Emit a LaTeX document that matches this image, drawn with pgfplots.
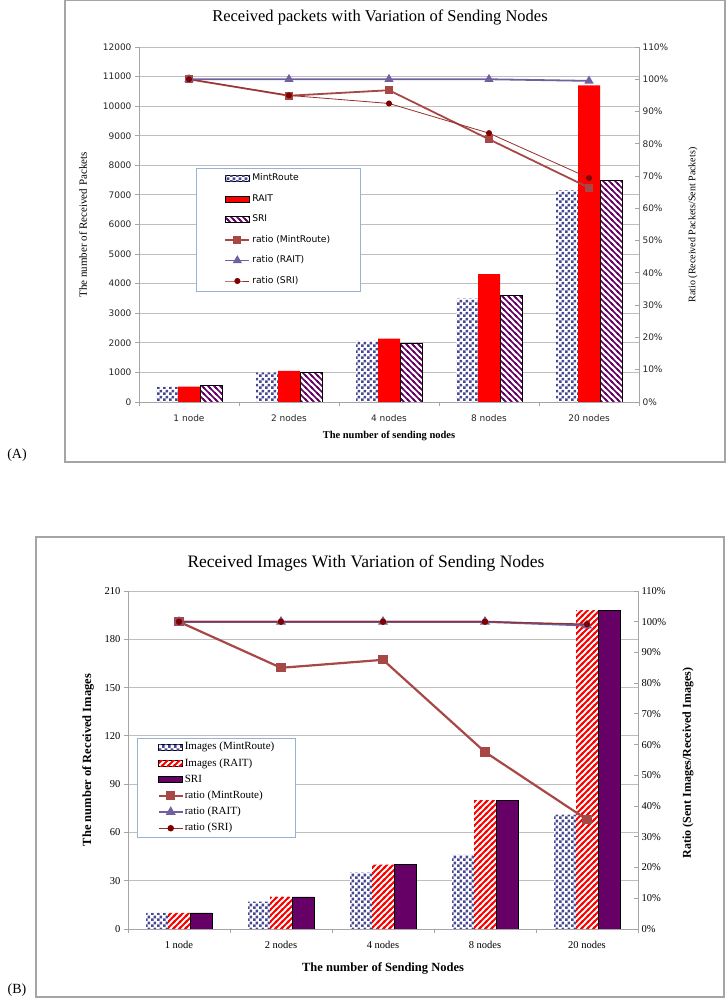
\documentclass[border=0pt]{standalone}
\usepackage{pgfplots}
\pgfplotsset{compat=1.18}
\usepackage{fontspec}
\setmainfont{Liberation Serif}
\newfontfamily\dejavu{DejaVu Sans}
\usetikzlibrary{patterns.meta}

\definecolor{mintc}{RGB}{70,70,145}
\definecolor{raitred}{RGB}{255,0,0}
\definecolor{sripurple}{RGB}{102,0,102}
\definecolor{ratM}{RGB}{168,72,70}
\definecolor{ratR}{RGB}{112,96,160}
\definecolor{ratS}{RGB}{150,45,45}
\definecolor{ratSm}{RGB}{128,0,0}
\definecolor{legblue}{RGB}{149,179,215}
\definecolor{framegray}{RGB}{165,165,165}
\definecolor{gridgray}{RGB}{190,190,190}

\tikzdeclarepattern{
  name=mycheck, type=uncolored,
  bottom left={(0pt,0pt)}, top right={(5.6pt,5.6pt)}, tile size={(5.6pt,5.6pt)},
  code={
    \fill (0pt,0pt) rectangle (2.8pt,2.8pt);
    \fill (2.8pt,2.8pt) rectangle (5.6pt,5.6pt);
  }
}
\tikzdeclarepattern{
  name=hatchnw, type=uncolored,
  bottom left={(-1pt,-1pt)}, top right={(7pt,7pt)}, tile size={(6pt,6pt)},
  code={
    \draw[line width=1.7pt] (-1pt,7pt) -- (7pt,-1pt);
    \draw[line width=1.7pt] (-1pt,1pt) -- (1pt,-1pt);
    \draw[line width=1.7pt] (5pt,7pt) -- (7pt,5pt);
  }
}
\tikzdeclarepattern{
  name=hatchne, type=uncolored,
  bottom left={(-1pt,-1pt)}, top right={(7pt,7pt)}, tile size={(6pt,6pt)},
  code={
    \draw[line width=2pt] (-1pt,-1pt) -- (7pt,7pt);
    \draw[line width=2pt] (-1pt,5pt) -- (1pt,7pt);
    \draw[line width=2pt] (5pt,-1pt) -- (7pt,1pt);
  }
}

\pgfplotsset{
  barleg/.style={legend image code/.code={\draw[##1] (0pt,-3pt) rectangle (24pt,3pt);}},
  lineleg/.style={legend image code/.code={\draw[mark repeat=2,mark phase=2,##1] plot coordinates {(0pt,0pt) (12pt,0pt) (24pt,0pt)};}},
  mintbar/.style={draw=none, fill=white, postaction={pattern=mycheck, pattern color=mintc}},
  raitbarA/.style={draw=none, fill=raitred},
  sribarA/.style={draw=black, line width=0.6pt, fill=white, postaction={pattern=hatchnw, pattern color=sripurple}},
  raitbarB/.style={draw=none, fill=white, postaction={pattern=hatchne, pattern color=raitred}},
  sribarB/.style={draw=black, line width=0.6pt, fill=sripurple},
  ratMs/.style={color=ratM, line width=1.8pt, mark=square*, mark size=3pt, mark options={solid, fill=ratM}},
  ratRs/.style={color=ratR, line width=1.8pt, mark=triangle*, mark size=3.6pt, mark options={solid, fill=ratR}},
  ratSs/.style={color=ratS, line width=0.8pt, mark=*, mark size=2.6pt, mark options={solid, fill=ratSm, draw=ratSm}},
  cats/.style={
    xmin=-0.5, xmax=4.5,
    xtick={-0.5,0.5,1.5,2.5,3.5,4.5}, xticklabels={},
    extra x ticks={0,1,2,3,4},
    extra x tick labels={1 node,2 nodes,4 nodes,8 nodes,20 nodes},
    extra x tick style={major tick length=0pt, tick style={draw=none}, grid=none},
  },
}

\begin{document}
\begin{tikzpicture}
\path[use as bounding box] (0pt,0pt) rectangle (726pt,1000pt);

% frames and outer texts
\draw[framegray, line width=1.2pt] (65pt,538pt) rectangle (725pt,999.4pt);
\draw[framegray, line width=1.2pt] (36pt,3pt) rectangle (724pt,463pt);
\node at (17pt,545pt) {\fontsize{14}{16}\selectfont (A)};
\node at (17pt,10pt) {\fontsize{14}{16}\selectfont (B)};

% ---------- chart A ----------
\node at (380pt,983pt) {\fontsize{16.5}{19}\selectfont Received packets with Variation of Sending Nodes};
\node[rotate=90] at (83pt,775pt) {\fontsize{11}{13}\selectfont The number of Received Packets};
\node[rotate=90] at (693pt,775pt) {\fontsize{10}{12}\selectfont Ratio (Received Packets/Sent Packets)};
\node at (389pt,564pt) {\bfseries\fontsize{10.5}{12}\selectfont The number of sending nodes};

\begin{axis}[
  at={(139pt,598pt)}, anchor=south west,
  scale only axis, width=500pt, height=355pt,
  cats, ymin=0, ymax=12000,
  axis x line*=bottom, axis y line*=left,
  axis line style={-, framegray, line width=0.9pt},
  ytick={0,1000,...,12000},
  ymajorgrids, grid style={gridgray, line width=0.9pt},
  tick align=outside, major tick length=4pt,
  tick style={framegray, line width=0.9pt},
  /pgf/number format/assume math mode=true,
  /pgf/number format/1000 sep={},
  scaled y ticks=false,
  ticklabel style={font=\dejavu\fontsize{9}{10}\selectfont, text=black!85},
  xticklabel style={yshift=-9pt},
  ybar=0pt, bar width=22pt,
]
\addplot[mintbar] coordinates {(0,510) (1,1000) (2,2070) (3,3490) (4,7150)};
\addplot[raitbarA] coordinates {(0,520) (1,1050) (2,2140) (3,4320) (4,10700)};
\addplot[sribarA] coordinates {(0,550) (1,1005) (2,2000) (3,3590) (4,7500)};
\end{axis}

\begin{axis}[
  at={(139pt,598pt)}, anchor=south west,
  scale only axis, width=500pt, height=355pt,
  xmin=-0.5, xmax=4.5, ymin=0, ymax=110,
  axis x line=none, axis y line*=right,
  axis line style={-, framegray, line width=0.9pt},
  ytick={0,10,...,110},
  yticklabel={\pgfmathprintnumber[fixed,precision=0]{\tick}\%},
  tick align=inside, major tick length=4pt,
  tick style={framegray, line width=0.9pt},
  /pgf/number format/assume math mode=true,
  ticklabel style={font=\dejavu\fontsize{9}{10}\selectfont, text=black!85},
  legend cell align=left,
  legend style={at={(0.114,0.659)}, anchor=north west, draw=legblue, line width=0.9pt,
    inner xsep=28pt, inner ysep=4.5pt, row sep=9.5pt,
    font=\dejavu\fontsize{9.2}{10}\selectfont,
    nodes={text height=7pt, text depth=2pt, inner ysep=1pt, inner xsep=2pt}},
]
\addlegendimage{barleg, mintbar}\addlegendentry{MintRoute}
\addlegendimage{barleg, raitbarA}\addlegendentry{RAIT}
\addlegendimage{barleg, sribarA}\addlegendentry{SRI}
\addplot[lineleg, ratMs] coordinates {(0,100) (1,94.9) (2,96.6) (3,81.4) (4,66.4)};
\addlegendentry{ratio (MintRoute)}
\addplot[lineleg, ratRs] coordinates {(0,100) (1,100) (2,100) (3,100) (4,99.5)};
\addlegendentry{ratio (RAIT)}
\addplot[lineleg, ratSs] coordinates {(0,100) (1,95) (2,92.5) (3,83.3) (4,69.4)};
\addlegendentry{ratio (SRI)}
\end{axis}

% ---------- chart B ----------
\node at (366pt,437pt) {\fontsize{17.5}{20}\selectfont Received Images With Variation of Sending Nodes};
\node[rotate=90] at (88pt,240pt) {\bfseries\fontsize{12.5}{14}\selectfont The number of Received Images};
\node[rotate=90] at (688pt,237pt) {\bfseries\fontsize{12}{14}\selectfont Ratio (Sent Images/Received Images)};
\node at (383pt,32pt) {\bfseries\fontsize{12.5}{14}\selectfont The number of Sending Nodes};

\begin{axis}[
  at={(128pt,71pt)}, anchor=south west,
  scale only axis, width=510pt, height=338pt,
  cats, ymin=0, ymax=210,
  axis x line*=bottom, axis y line*=left,
  axis line style={-, framegray, line width=0.9pt},
  ytick={0,30,...,210},
  ymajorgrids, grid style={gridgray, line width=0.9pt},
  tick align=outside, major tick length=4pt,
  tick style={framegray, line width=0.9pt},
  /pgf/number format/assume math mode=true,
  ticklabel style={font=\fontsize{10.5}{12}\selectfont},
  xticklabel style={yshift=-9pt},
  ybar=0pt, bar width=22pt,
]
\addplot[mintbar] coordinates {(0,10) (1,17) (2,35) (3,46) (4,71)};
\addplot[raitbarB] coordinates {(0,10) (1,20) (2,40) (3,80) (4,198)};
\addplot[sribarB] coordinates {(0,10) (1,20) (2,40) (3,80) (4,198)};
\end{axis}

\begin{axis}[
  at={(128pt,71pt)}, anchor=south west,
  scale only axis, width=510pt, height=338pt,
  xmin=-0.5, xmax=4.5, ymin=0, ymax=110,
  axis x line=none, axis y line*=right,
  axis line style={-, framegray, line width=0.9pt},
  ytick={0,10,...,110},
  yticklabel={\pgfmathprintnumber[fixed,precision=0]{\tick}\%},
  tick align=inside, major tick length=4pt,
  tick style={framegray, line width=0.9pt},
  /pgf/number format/assume math mode=true,
  ticklabel style={font=\fontsize{10.5}{12}\selectfont},
  legend cell align=left,
  legend style={at={(0.018,0.565)}, anchor=north west, draw=legblue, line width=0.9pt,
    inner xsep=20pt, inner ysep=2.5pt, row sep=3.7pt,
    font=\fontsize{11}{13}\selectfont,
    nodes={text height=8pt, text depth=2.5pt, inner ysep=1pt, inner xsep=1pt}},
]
\addlegendimage{barleg, mintbar}\addlegendentry{Images (MintRoute)}
\addlegendimage{barleg, raitbarB}\addlegendentry{Images (RAIT)}
\addlegendimage{barleg, sribarB}\addlegendentry{SRI}
\addplot[lineleg, ratMs, line width=2.2pt, mark size=3.5pt] coordinates {(0,100) (1,85) (2,87.6) (3,57.6) (4,35.6)};
\addlegendentry{ratio (MintRoute)}
\addplot[lineleg, ratRs, line width=2.2pt] coordinates {(0,100) (1,100) (2,100) (3,100) (4,98.8)};
\addlegendentry{ratio (RAIT)}
\addplot[lineleg, ratSs, line width=1.2pt] coordinates {(0,100) (1,100) (2,100) (3,100) (4,99.2)};
\addlegendentry{ratio (SRI)}
\end{axis}
\end{tikzpicture}
\end{document}
